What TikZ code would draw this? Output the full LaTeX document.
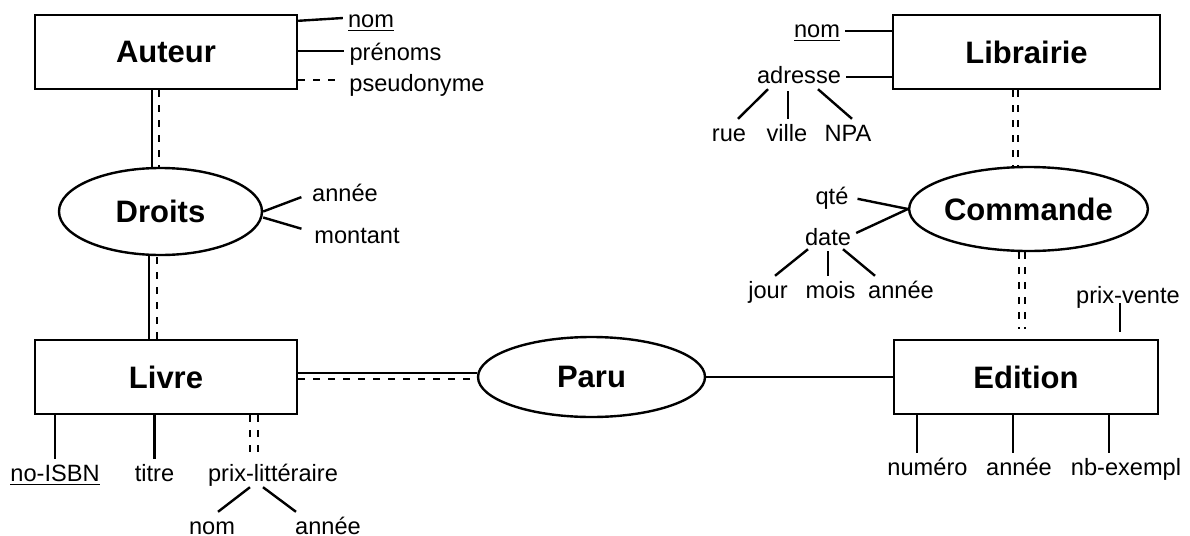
\documentclass[tikz,border=0pt]{standalone}
\usepackage{fontspec}
\setmainfont{Liberation Sans}
\usetikzlibrary{shapes.geometric}

\begin{document}
\begin{tikzpicture}[x=0.5pt,y=-0.5pt,line width=1.2pt]
    \tikzstyle{entity} = [draw,rectangle,minimum width=131pt,minimum height=37pt,inner sep=0pt,font=\fontsize{15.5}{18}\selectfont\bfseries]
    \tikzstyle{relation} = [draw,ellipse,inner sep=0pt,font=\fontsize{15.5}{18}\selectfont\bfseries]
    \tikzstyle{attribute} = [anchor=base,inner sep=2pt,text height=8.5pt,text depth=2.5pt,font=\fontsize{11.8}{14}\selectfont]
    \tikzstyle{optional} = [dash pattern=on 3.5pt off 4pt]
    \useasboundingbox (0,0) rectangle (1190,536);
      \node[entity] (auteur) at (166,52) {Auteur};
      \node[entity] (livre) at (166,377) {Livre};
      \node[entity,minimum width=133.5pt] (librairie) at (1026.5,52) {Librairie};
      \node[entity,minimum width=132pt] (edition) at (1026,377) {Edition};
      \node[relation,minimum width=101.5pt,minimum height=43.5pt] (droits) at (160.5,211.5) {Droits};
      \node[relation,minimum width=113.5pt,minimum height=40pt] (paru) at (591.5,377) {Paru};
      \node[relation,minimum width=116.5pt,minimum height=42pt] (commande) at (1028.5,209) {Commande};
      \node[attribute] (anom) at (371,27) {\underline{nom}};
      \node[attribute] (aprenoms) at (395.5,60) {prénoms};
      \node[attribute] (apseudo) at (417,91) {pseudonyme};
      \node[attribute] (dannee) at (345,201) {année};
      \node[attribute] (dmontant) at (357,243) {montant};
      \node[attribute] (lisbn) at (55,481) {\underline{no-ISBN}};
      \node[attribute] (ltitre) at (154.5,481) {titre};
      \node[attribute] (lprix) at (273,481) {prix-littéraire};
      \node[attribute] (lpnom) at (212,534) {nom};
      \node[attribute] (lpannee) at (328,534) {année};
      \node[attribute] (enumero) at (927.5,475) {numéro};
      \node[attribute] (eannee) at (1019,475) {année};
      \node[attribute] (eexempl) at (1126,475) {nb-exempl};
      \node[attribute] (evente) at (1128,303) {prix-vente};
      \node[attribute] (cqte) at (832,204) {qté};
      \node[attribute] (cdate) at (828,245) {date};
      \node[attribute] (cjour) at (768,298) {jour};
      \node[attribute] (cmois) at (830.5,298) {mois};
      \node[attribute] (cannee) at (901,298) {année};
      \node[attribute] (bnom) at (817,37) {\underline{nom}};
      \node[attribute] (badresse) at (799,83) {adresse};
      \node[attribute] (brue) at (729,141) {rue};
      \node[attribute] (bville) at (787,141) {ville};
      \node[attribute] (bnpa) at (848,141) {NPA};
      \draw ([yshift=-3.5pt]auteur.north east) -- ([yshift=1.5pt]anom.west);
      \draw ([yshift=1.5pt]aprenoms.west -| auteur.east) -- ([yshift=1.5pt]aprenoms.west);
      \draw[optional,shorten >=4pt] ([yshift=2.5pt]apseudo.west -| auteur.east) -- ([yshift=2.5pt]apseudo.west);
      \draw ([xshift=-7pt]auteur.south) -- ([xshift=-7pt]auteur.south |- droits.north);
      \draw[optional] ([xshift=-3.5pt]auteur.south) -- ([xshift=-3.5pt]auteur.south |- droits.north);
      \draw[shorten >=3pt] (droits.east) -- (dannee.west);
      \draw[shorten >=4pt] ([yshift=-3pt]droits.east) -- ([yshift=3pt]dmontant.west);
      \draw ([xshift=-8.5pt]livre.north) -- ([xshift=-8.5pt]livre.north |- droits.south);
      \draw[optional] ([xshift=-4.5pt]livre.north) -- ([xshift=-4.5pt]livre.north |- droits.south);
      \draw (lisbn) -- (lisbn |- livre.south);
      \draw (ltitre) -- (ltitre |- livre.south);
      \foreach \s in {42pt,46pt} \draw[optional] ([xshift=\s]livre.south) -- ([xshift=\s]livre.south |- lprix.north);
      \draw ([xshift=-11.5pt,yshift=2pt]lprix.south) -- ([xshift=3pt]lpnom.north);
      \draw ([xshift=-5pt,yshift=2pt]lprix.south) -- ([xshift=-16pt]lpannee.north);
      \draw ([yshift=2pt]livre.east) -- ([yshift=2pt]paru.west);
      \draw[optional] ([yshift=-1pt]livre.east) -- ([yshift=-1pt]paru.west);
      \draw (paru) -- (edition);
      \foreach \s/\n in {-54.5pt/enumero,-6.5pt/eannee,41.5pt/eexempl} \draw ([xshift=\s]edition.south) -- ([xshift=\s]edition.south |- \n.north);
      \draw ([xshift=47pt,yshift=3.5pt]edition.north) -- ([xshift=47pt]edition.north |- evente.base);
      \foreach \s in {-4.75pt,-1.75pt} \draw[optional] ([xshift=\s]commande.south) -- ([xshift=\s,yshift=5pt]commande.south |- edition.north);
      \foreach \s in {-6.75pt,-4.25pt} \draw[optional] ([xshift=\s]librairie.south) -- ([xshift=\s]librairie.south |- commande.north);
      \draw[shorten <=2pt] (cqte.east) -- (commande.west);
      \draw ([yshift=3pt]cdate.east) -- (commande.west);
      \draw ([xshift=-10pt,yshift=3pt]cdate.south) -- ([xshift=3.5pt]cjour.north);
      \draw ([yshift=2pt]cdate.south) -- (cdate.south |- cmois.north);
      \draw ([xshift=7.5pt,yshift=3pt]cdate.south) -- ([xshift=-13pt]cannee.north);
      \draw (bnom.east) -- (bnom.east -| librairie.west);
      \draw (badresse.east) -- (badresse.east -| librairie.west);
      \draw ([xshift=-15.5pt,yshift=2pt]badresse.south) -- ([xshift=4.5pt]brue.north);
      \draw ([xshift=-5.5pt,yshift=1pt]badresse.south) -- ([xshift=-5.5pt]badresse.south |- bville.north);
      \draw ([xshift=9.5pt,yshift=2pt]badresse.south) -- ([xshift=2pt]bnpa.north);
  \end{tikzpicture}
\end{document}
